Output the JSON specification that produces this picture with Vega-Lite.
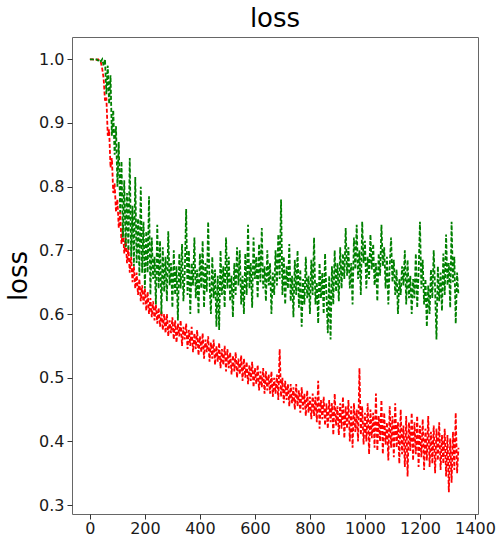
{
  "$schema": "https://vega.github.io/schema/vega-lite/v6.json",
  "width": 406,
  "height": 477,
  "autosize": "none",
  "padding": {"left": 72, "top": 37, "right": 19, "bottom": 23},
  "background": "white",
  "title": {"text": "loss", "fontSize": 26, "font": "DejaVu Sans", "fontWeight": "normal", "color": "black", "offset": 5, "anchor": "middle"},
  "config": {
    "view": {"stroke": "#666666", "strokeWidth": 1},
    "axis": {"grid": false, "domain": false, "tickColor": "#333333", "tickSize": 5, "labelFont": "DejaVu Sans", "labelFontSize": 16, "labelColor": "#1a1a1a", "titleFont": "DejaVu Sans", "titleFontSize": 26, "titleFontWeight": "normal", "titleColor": "black"}
  },
  "data": {"values": [
{"x":0,"r":1.0,"g":1.0},{"x":5,"r":1.0,"g":1.0},{"x":10,"r":1.0,"g":1.0},{"x":15,"r":1.0,"g":0.999},{"x":20,"r":1.0,"g":1.0},{"x":25,"r":0.999,"g":1.0},{"x":30,"r":1.0,"g":0.998},{"x":35,"r":0.998,"g":1.0},{"x":40,"r":0.995,"g":0.997},{"x":45,"r":0.985,"g":1.0},
{"x":50,"r":0.97,"g":0.99},{"x":55,"r":0.935,"g":1.0},{"x":60,"r":0.94,"g":0.945},{"x":65,"r":0.88,"g":0.99},{"x":70,"r":0.89,"g":0.93},{"x":75,"r":0.83,"g":0.975},{"x":80,"r":0.845,"g":0.88},{"x":85,"r":0.79,"g":0.92},{"x":90,"r":0.805,"g":0.85},{"x":95,"r":0.76,"g":0.895},
{"x":100,"r":0.78,"g":0.8},{"x":105,"r":0.735,"g":0.87},{"x":110,"r":0.76,"g":0.76},{"x":115,"r":0.71,"g":0.84},{"x":120,"r":0.735,"g":0.72},{"x":125,"r":0.695,"g":0.81},{"x":130,"r":0.72,"g":0.705},{"x":135,"r":0.68,"g":0.79},{"x":140,"r":0.705,"g":0.7},{"x":145,"r":0.665,"g":0.845},
{"x":150,"r":0.69,"g":0.69},{"x":155,"r":0.65,"g":0.77},{"x":160,"r":0.675,"g":0.675},{"x":165,"r":0.64,"g":0.815},{"x":170,"r":0.665,"g":0.68},{"x":175,"r":0.63,"g":0.75},{"x":180,"r":0.655,"g":0.66},{"x":185,"r":0.62,"g":0.8},{"x":190,"r":0.645,"g":0.665},{"x":195,"r":0.615,"g":0.745},
{"x":200,"r":0.64,"g":0.64},{"x":205,"r":0.605,"g":0.73},{"x":210,"r":0.635,"g":0.665},{"x":215,"r":0.6,"g":0.785},{"x":220,"r":0.625,"g":0.63},{"x":225,"r":0.595,"g":0.72},{"x":230,"r":0.62,"g":0.655},{"x":235,"r":0.59,"g":0.69},{"x":240,"r":0.615,"g":0.615},{"x":245,"r":0.585,"g":0.74},
{"x":250,"r":0.61,"g":0.64},{"x":255,"r":0.58,"g":0.715},{"x":260,"r":0.605,"g":0.6},{"x":265,"r":0.575,"g":0.705},{"x":270,"r":0.6,"g":0.635},{"x":275,"r":0.57,"g":0.69},{"x":280,"r":0.6,"g":0.62},{"x":285,"r":0.565,"g":0.73},{"x":290,"r":0.59,"g":0.645},{"x":295,"r":0.57,"g":0.68},
{"x":300,"r":0.595,"g":0.61},{"x":305,"r":0.56,"g":0.7},{"x":310,"r":0.59,"g":0.63},{"x":315,"r":0.555,"g":0.675},{"x":320,"r":0.585,"g":0.59},{"x":325,"r":0.565,"g":0.695},{"x":330,"r":0.59,"g":0.64},{"x":335,"r":0.55,"g":0.71},{"x":340,"r":0.58,"g":0.62},{"x":345,"r":0.56,"g":0.665},
{"x":350,"r":0.585,"g":0.765},{"x":355,"r":0.545,"g":0.63},{"x":360,"r":0.575,"g":0.7},{"x":365,"r":0.55,"g":0.6},{"x":370,"r":0.58,"g":0.68},{"x":375,"r":0.54,"g":0.645},{"x":380,"r":0.57,"g":0.72},{"x":385,"r":0.545,"g":0.625},{"x":390,"r":0.575,"g":0.67},{"x":395,"r":0.535,"g":0.6},
{"x":400,"r":0.565,"g":0.695},{"x":405,"r":0.54,"g":0.64},{"x":410,"r":0.57,"g":0.715},{"x":415,"r":0.53,"g":0.61},{"x":420,"r":0.56,"g":0.68},{"x":425,"r":0.54,"g":0.635},{"x":430,"r":0.565,"g":0.745},{"x":435,"r":0.525,"g":0.65},{"x":440,"r":0.555,"g":0.6},{"x":445,"r":0.53,"g":0.69},
{"x":450,"r":0.56,"g":0.625},{"x":455,"r":0.52,"g":0.67},{"x":460,"r":0.55,"g":0.58},{"x":465,"r":0.525,"g":0.66},{"x":470,"r":0.555,"g":0.575},{"x":475,"r":0.515,"g":0.7},{"x":480,"r":0.545,"g":0.63},{"x":485,"r":0.52,"g":0.675},{"x":490,"r":0.55,"g":0.61},{"x":495,"r":0.51,"g":0.72},
{"x":500,"r":0.545,"g":0.64},{"x":505,"r":0.515,"g":0.69},{"x":510,"r":0.54,"g":0.62},{"x":515,"r":0.505,"g":0.66},{"x":520,"r":0.535,"g":0.595},{"x":525,"r":0.51,"g":0.68},{"x":530,"r":0.54,"g":0.63},{"x":535,"r":0.5,"g":0.705},{"x":540,"r":0.53,"g":0.645},{"x":545,"r":0.505,"g":0.7},
{"x":550,"r":0.535,"g":0.615},{"x":555,"r":0.495,"g":0.66},{"x":560,"r":0.53,"g":0.6},{"x":565,"r":0.5,"g":0.695},{"x":570,"r":0.525,"g":0.63},{"x":575,"r":0.49,"g":0.74},{"x":580,"r":0.52,"g":0.64},{"x":585,"r":0.495,"g":0.68},{"x":590,"r":0.525,"g":0.61},{"x":595,"r":0.485,"g":0.72},
{"x":600,"r":0.515,"g":0.655},{"x":605,"r":0.49,"g":0.69},{"x":610,"r":0.52,"g":0.625},{"x":615,"r":0.48,"g":0.71},{"x":620,"r":0.51,"g":0.65},{"x":625,"r":0.485,"g":0.735},{"x":630,"r":0.515,"g":0.64},{"x":635,"r":0.475,"g":0.675},{"x":640,"r":0.51,"g":0.62},{"x":645,"r":0.48,"g":0.7},
{"x":650,"r":0.505,"g":0.645},{"x":655,"r":0.475,"g":0.68},{"x":660,"r":0.51,"g":0.6},{"x":665,"r":0.47,"g":0.665},{"x":670,"r":0.5,"g":0.63},{"x":675,"r":0.475,"g":0.7},{"x":680,"r":0.505,"g":0.645},{"x":685,"r":0.465,"g":0.725},{"x":690,"r":0.545,"g":0.655},{"x":695,"r":0.47,"g":0.78},
{"x":700,"r":0.5,"g":0.63},{"x":705,"r":0.46,"g":0.69},{"x":710,"r":0.495,"g":0.615},{"x":715,"r":0.465,"g":0.675},{"x":720,"r":0.49,"g":0.64},{"x":725,"r":0.455,"g":0.71},{"x":730,"r":0.49,"g":0.62},{"x":735,"r":0.46,"g":0.66},{"x":740,"r":0.485,"g":0.595},{"x":745,"r":0.45,"g":0.685},
{"x":750,"r":0.49,"g":0.63},{"x":755,"r":0.455,"g":0.7},{"x":760,"r":0.48,"g":0.61},{"x":765,"r":0.445,"g":0.67},{"x":770,"r":0.485,"g":0.58},{"x":775,"r":0.45,"g":0.655},{"x":780,"r":0.475,"g":0.615},{"x":785,"r":0.44,"g":0.69},{"x":790,"r":0.48,"g":0.625},{"x":795,"r":0.445,"g":0.66},
{"x":800,"r":0.47,"g":0.6},{"x":805,"r":0.435,"g":0.685},{"x":810,"r":0.475,"g":0.63},{"x":815,"r":0.44,"g":0.72},{"x":820,"r":0.47,"g":0.615},{"x":825,"r":0.43,"g":0.65},{"x":830,"r":0.495,"g":0.585},{"x":835,"r":0.42,"g":0.68},{"x":840,"r":0.465,"g":0.625},{"x":845,"r":0.435,"g":0.665},
{"x":850,"r":0.47,"g":0.6},{"x":855,"r":0.425,"g":0.695},{"x":860,"r":0.46,"g":0.63},{"x":865,"r":0.42,"g":0.57},{"x":870,"r":0.465,"g":0.66},{"x":875,"r":0.43,"g":0.56},{"x":880,"r":0.46,"g":0.675},{"x":885,"r":0.41,"g":0.615},{"x":890,"r":0.475,"g":0.7},{"x":895,"r":0.425,"g":0.635},
{"x":900,"r":0.455,"g":0.68},{"x":905,"r":0.41,"g":0.62},{"x":910,"r":0.46,"g":0.705},{"x":915,"r":0.42,"g":0.64},{"x":920,"r":0.47,"g":0.695},{"x":925,"r":0.405,"g":0.655},{"x":930,"r":0.455,"g":0.735},{"x":935,"r":0.42,"g":0.66},{"x":940,"r":0.465,"g":0.705},{"x":945,"r":0.4,"g":0.64},
{"x":950,"r":0.455,"g":0.68},{"x":955,"r":0.39,"g":0.615},{"x":960,"r":0.46,"g":0.72},{"x":965,"r":0.415,"g":0.67},{"x":970,"r":0.45,"g":0.74},{"x":975,"r":0.4,"g":0.655},{"x":980,"r":0.515,"g":0.7},{"x":985,"r":0.41,"g":0.63},{"x":990,"r":0.455,"g":0.745},{"x":995,"r":0.395,"g":0.68},
{"x":1000,"r":0.445,"g":0.715},{"x":1005,"r":0.4,"g":0.64},{"x":1010,"r":0.46,"g":0.69},{"x":1015,"r":0.38,"g":0.655},{"x":1020,"r":0.45,"g":0.725},{"x":1025,"r":0.405,"g":0.67},{"x":1030,"r":0.445,"g":0.71},{"x":1035,"r":0.39,"g":0.645},{"x":1040,"r":0.475,"g":0.68},{"x":1045,"r":0.385,"g":0.62},
{"x":1050,"r":0.44,"g":0.695},{"x":1055,"r":0.4,"g":0.66},{"x":1060,"r":0.465,"g":0.74},{"x":1065,"r":0.38,"g":0.675},{"x":1070,"r":0.445,"g":0.705},{"x":1075,"r":0.395,"g":0.64},{"x":1080,"r":0.43,"g":0.69},{"x":1085,"r":0.37,"g":0.615},{"x":1090,"r":0.455,"g":0.675},{"x":1095,"r":0.39,"g":0.72},
{"x":1100,"r":0.44,"g":0.65},{"x":1105,"r":0.375,"g":0.685},{"x":1110,"r":0.46,"g":0.63},{"x":1115,"r":0.39,"g":0.67},{"x":1120,"r":0.43,"g":0.6},{"x":1125,"r":0.365,"g":0.655},{"x":1130,"r":0.45,"g":0.63},{"x":1135,"r":0.38,"g":0.675},{"x":1140,"r":0.425,"g":0.645},{"x":1145,"r":0.36,"g":0.7},
{"x":1150,"r":0.44,"g":0.615},{"x":1155,"r":0.345,"g":0.685},{"x":1160,"r":0.43,"g":0.625},{"x":1165,"r":0.385,"g":0.66},{"x":1170,"r":0.445,"g":0.6},{"x":1175,"r":0.37,"g":0.655},{"x":1180,"r":0.43,"g":0.625},{"x":1185,"r":0.38,"g":0.695},{"x":1190,"r":0.44,"g":0.61},{"x":1195,"r":0.36,"g":0.665},
{"x":1200,"r":0.425,"g":0.745},{"x":1205,"r":0.375,"g":0.64},{"x":1210,"r":0.435,"g":0.685},{"x":1215,"r":0.355,"g":0.615},{"x":1220,"r":0.42,"g":0.655},{"x":1225,"r":0.37,"g":0.58},{"x":1230,"r":0.44,"g":0.645},{"x":1235,"r":0.36,"g":0.6},{"x":1240,"r":0.415,"g":0.67},{"x":1245,"r":0.365,"g":0.625},
{"x":1250,"r":0.425,"g":0.7},{"x":1255,"r":0.35,"g":0.64},{"x":1260,"r":0.42,"g":0.56},{"x":1265,"r":0.37,"g":0.675},{"x":1270,"r":0.43,"g":0.62},{"x":1275,"r":0.355,"g":0.665},{"x":1280,"r":0.41,"g":0.605},{"x":1285,"r":0.365,"g":0.695},{"x":1290,"r":0.42,"g":0.63},{"x":1295,"r":0.345,"g":0.725},
{"x":1300,"r":0.41,"g":0.645},{"x":1305,"r":0.32,"g":0.68},{"x":1310,"r":0.405,"g":0.61},{"x":1315,"r":0.335,"g":0.745},{"x":1320,"r":0.415,"g":0.65},{"x":1325,"r":0.355,"g":0.69},{"x":1330,"r":0.445,"g":0.585},{"x":1335,"r":0.35,"g":0.665},{"x":1340,"r":0.39,"g":0.63}
  ]},
  "layer": [
    {
      "mark": {"type": "line", "color": "#ff0000", "strokeWidth": 1.8, "strokeDash": [4, 2], "clip": true},
      "encoding": {
        "x": {"field": "x", "type": "quantitative", "scale": {"domain": [-65, 1411], "nice": false, "zero": false}, "axis": {"values": [0, 200, 400, 600, 800, 1000, 1200, 1400], "format": "d", "title": null, "labelPadding": 1, "labelFlush": false}},
        "y": {"field": "r", "type": "quantitative", "scale": {"domain": [0.286, 1.035], "nice": false, "zero": false}, "axis": {"values": [0.3, 0.4, 0.5, 0.6, 0.7, 0.8, 0.9, 1.0], "format": ".1f", "title": "loss", "labelPadding": 3, "titlePadding": 7, "labelFlush": false}}
      }
    },
    {
      "mark": {"type": "line", "color": "#008000", "strokeWidth": 1.8, "strokeDash": [4, 2], "clip": true},
      "encoding": {
        "x": {"field": "x", "type": "quantitative"},
        "y": {"field": "g", "type": "quantitative"}
      }
    }
  ]
}
